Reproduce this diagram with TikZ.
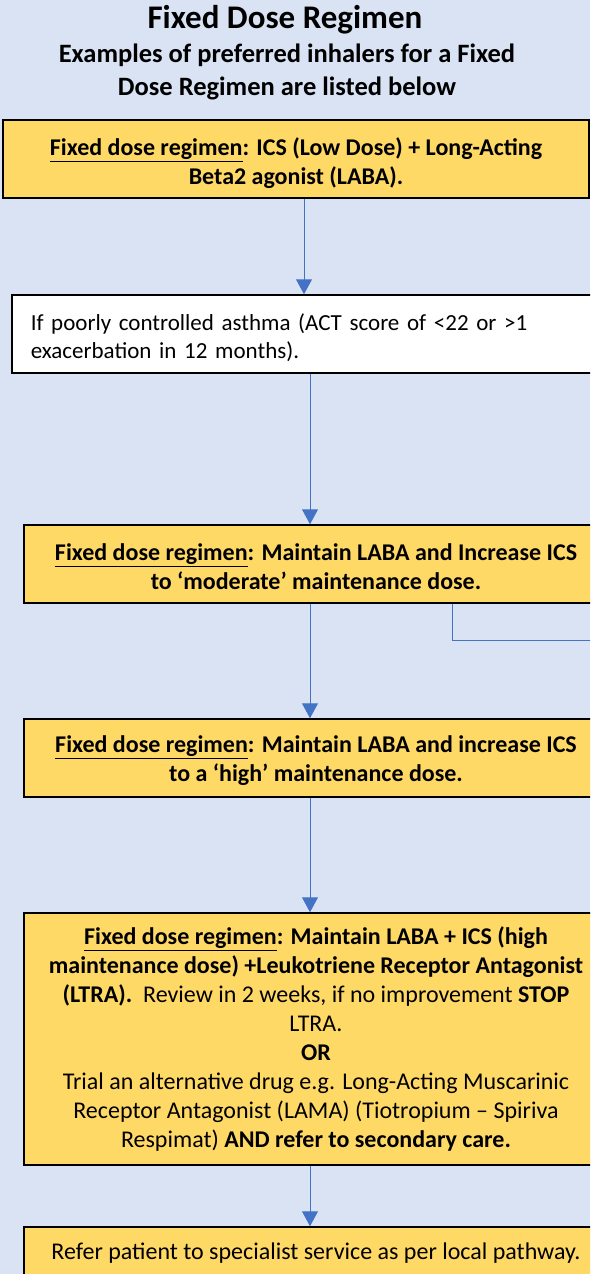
\documentclass[tikz,border=0pt]{standalone}
\usepackage{fontspec}
\setmainfont{Carlito}
\usetikzlibrary{arrows.meta}
\definecolor{bgblue}{HTML}{DAE3F3}
\definecolor{yel}{HTML}{FFD966}
\definecolor{arrblue}{HTML}{4472C4}
\newcommand\fdrlabel{\underline{Fixed dose regimen}}
\newcommand\downstrut[1]{\rule{0pt}{#1}}
\tikzset{
  ybox/.style={draw=black, line width=1.5pt, fill=yel, minimum width=584pt, minimum height=78pt,
    align=center, inner sep=0pt, font=\fontsize{24}{29}\selectfont},
  wbox/.style={draw=black, line width=1.5pt, fill=white, minimum height=78pt, text width=580pt,
    align=left, inner xsep=19pt, inner ysep=0pt, font=\fontsize{23}{28}\selectfont, anchor=west},
  flow/.style={draw=arrblue, line width=1pt, -{Triangle[length=15pt,width=16pt]}},
  plain/.style={draw=arrblue, line width=1pt},
  ttl/.style={font=\fontsize{33}{36}\bfseries\selectfont, inner sep=0pt},
  sub/.style={font=\fontsize{26.5}{33}\bfseries\selectfont, inner sep=0pt, align=center}
}
\begin{document}
\begin{tikzpicture}[x=1pt,y=-1pt]
\useasboundingbox (0,0) rectangle (590,1274);
\fill[bgblue] (0,0) rectangle (590,1274);
\begin{scope}
\clip (0,0) rectangle (590,1274);
\node[ttl] (title) at (285,20) {Fixed Dose Regimen};
\node[sub] (subtitle) at (287,72) {Examples of preferred inhalers for a Fixed\\Dose Regimen are listed below};

\node[ybox, minimum width=586pt] (b1) at (296,159) {\downstrut{26pt}\bfseries \fdrlabel: ICS (Low Dose) + Long-Acting\\ \bfseries Beta2 agonist (LABA).};
\node[wbox] (b2) at (11,334) {\downstrut{24pt}If poorly controlled asthma (ACT score of <22 or >1\\exacerbation in 12 months).};
\node[ybox] (b3) at (316,564) {\downstrut{22pt}\bfseries \fdrlabel: Maintain LABA and Increase ICS\\ \bfseries to ‘moderate’ maintenance dose.};
\node[ybox] (b4) at (316,758) {\downstrut{22pt}\bfseries \fdrlabel: Maintain LABA and increase ICS\\ \bfseries to a ‘high’ maintenance dose.};
\node[ybox, minimum height=252pt] (b5) at (316,1039) {\textbf{\fdrlabel: Maintain LABA + ICS (high}\\
  \textbf{maintenance dose) +Leukotriene Receptor Antagonist}\\
  \textbf{(LTRA).}\ \ Review in 2 weeks, if no improvement \textbf{STOP}\\
  LTRA.\\
  \textbf{OR}\\
  Trial an alternative drug e.g. Long-Acting Muscarinic\\
  Receptor Antagonist (LAMA) (Tiotropium -- Spiriva\\
  Respimat) \textbf{AND refer to secondary care.}};
\node[ybox, minimum height=52pt] (b6) at (316,1253) {Refer patient to specialist service as per local pathway.};

\coordinate (xa) at (304,0);
\coordinate (xb) at (310,0);
\coordinate (xc) at (452,0);
\coordinate (bend) at (452,640);
\coordinate (offright) at (600,640);
\draw[flow] (b1.south -| xa) -- (b2.north -| xa);
\draw[flow] (b2.south -| xb) -- (b3.north -| xb);
\draw[flow] (b3.south -| xb) -- (b4.north -| xb);
\draw[flow] (b4.south -| xb) -- (b5.north -| xb);
\draw[flow] (b5.south -| xb) -- (b6.north -| xb);
\draw[plain] (b3.south -| xc) -- (bend) -- (offright);
\end{scope}
\end{tikzpicture}
\end{document}
